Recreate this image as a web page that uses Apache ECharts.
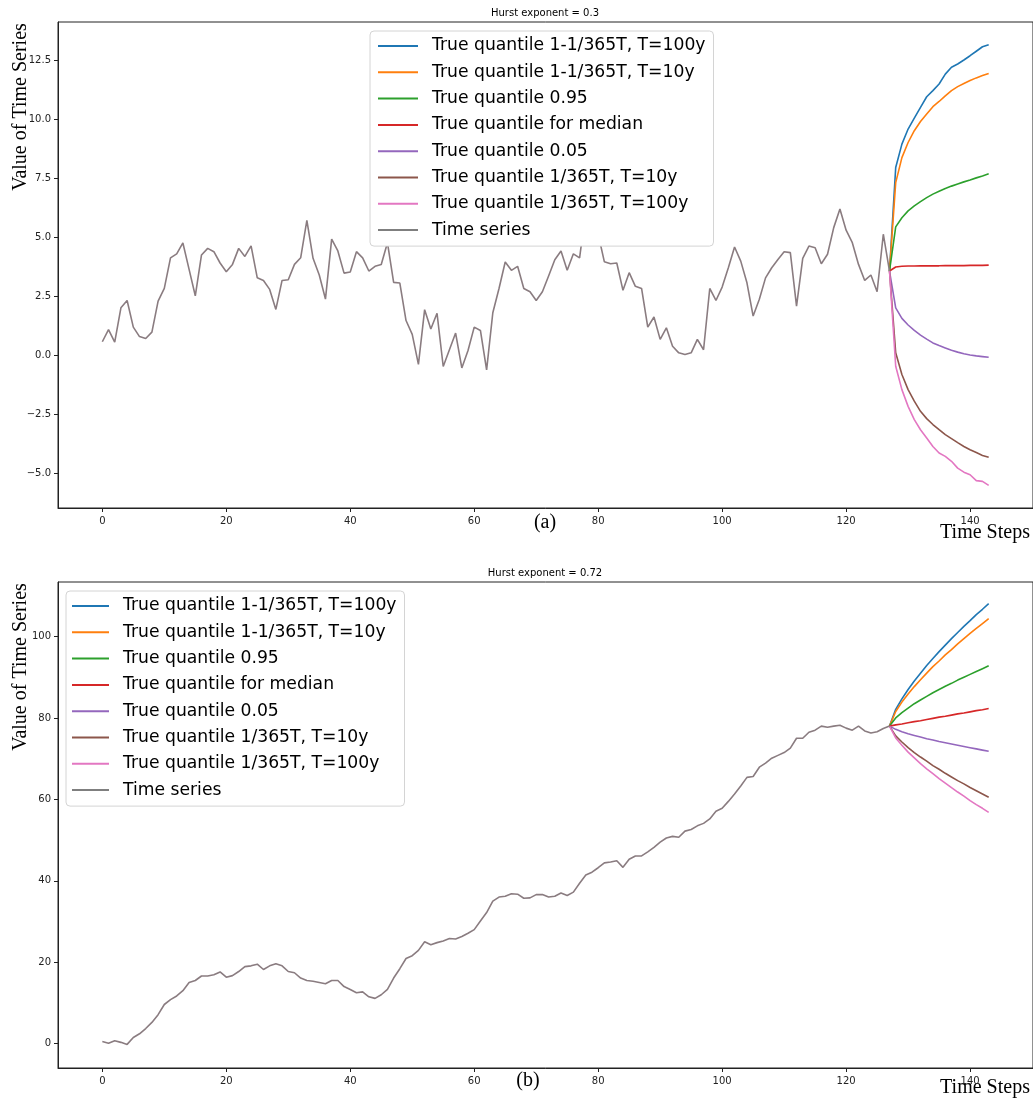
<!DOCTYPE html>
<html>
<head>
<meta charset="utf-8">
<script src="https://cdn.jsdelivr.net/npm/echarts@6/dist/echarts.min.js"></script>
<style>
	html, body {margin: 0; padding: 0; background: #fff;}
	#chart {width: 1033px; height: 1099px;}
</style>
</head>
<body>
<div id="chart"></div>
<script>
const seriesNames = [
	'True quantile 1-1/365T, T=100y',
	'True quantile 1-1/365T, T=10y',
	'True quantile 0.95',
	'True quantile for median',
	'True quantile 0.05',
	'True quantile 1/365T, T=10y',
	'True quantile 1/365T, T=100y',
	'Time series'
];
const colors = ['#1f77b4', '#ff7f0e', '#2ca02c', '#d62728', '#9467bd', '#8c564b', '#e377c2', '#7f7f7f'];
const xTicks = [0, 20, 40, 60, 80, 100, 120, 140];
const forecastStart = 127;

// (a) Hurst exponent = 0.3
const historyA = [
	0.58, 1.09, 0.56, 2.02, 2.33, 1.2, 0.8, 0.72, 0.99, 2.3, 2.84, 4.14, 4.31, 4.77, 3.65, 2.53,
	4.26, 4.54, 4.4, 3.92, 3.55, 3.86, 4.54, 4.2, 4.65, 3.29, 3.18, 2.8, 1.95, 3.18, 3.21, 3.86,
	4.14, 5.73, 4.12, 3.41, 2.39, 4.93, 4.43, 3.49, 3.54, 4.4, 4.14, 3.58, 3.78, 3.86, 4.78, 3.1,
	3.07, 1.48, 0.89, -0.38, 1.94, 1.12, 1.79, -0.47, 0.24, 0.95, -0.53, 0.21, 1.2, 1.06, -0.61,
	1.81, 2.84, 3.96, 3.61, 3.78, 2.84, 2.7, 2.33, 2.7, 3.37, 4.06, 4.43, 3.61, 4.31, 4.14, 6.13,
	5.59, 5.14, 3.97, 3.89, 3.92, 2.76, 3.51, 2.93, 2.84, 1.2, 1.63, 0.68, 1.17, 0.39, 0.11,
	0.04, 0.11, 0.68, 0.24, 2.84, 2.33, 2.9, 3.72, 4.6, 4.0, 3.08, 1.67, 2.38, 3.29, 3.72, 4.07,
	4.4, 4.36, 2.09, 4.12, 4.64, 4.57, 3.89, 4.29, 5.42, 6.21, 5.31, 4.78, 3.86, 3.18, 3.41, 2.7,
	5.14, 3.58
];
const upper100A = [3.58, 7.97, 8.96, 9.6, 10.06, 10.52, 10.97, 11.23, 11.51, 11.93, 12.22, 12.36, 12.53, 12.71, 12.9, 13.09, 13.18];
const upper10A = [3.58, 7.33, 8.39, 9.03, 9.53, 9.92, 10.24, 10.55, 10.77, 11.01, 11.23, 11.4, 11.53, 11.66, 11.77, 11.87, 11.96];
const q95A = [3.58, 5.45, 5.84, 6.13, 6.34, 6.52, 6.69, 6.84, 6.96, 7.08, 7.18, 7.27, 7.36, 7.44, 7.53, 7.61, 7.7];
const medianA = [3.58, 3.75, 3.78, 3.79, 3.79, 3.8, 3.8, 3.8, 3.8, 3.81, 3.81, 3.81, 3.81, 3.82, 3.82, 3.82, 3.83];
const q05A = [3.58, 2.02, 1.57, 1.29, 1.06, 0.86, 0.69, 0.53, 0.42, 0.32, 0.22, 0.14, 0.07, 0.02, -0.02, -0.05, -0.08];
const lower10A = [3.58, 0.11, -0.81, -1.45, -1.94, -2.37, -2.68, -2.93, -3.15, -3.36, -3.53, -3.7, -3.86, -4.0, -4.12, -4.24, -4.32];
const lower100A = [3.58, -0.46, -1.45, -2.16, -2.72, -3.15, -3.5, -3.86, -4.14, -4.28, -4.49, -4.78, -4.95, -5.06, -5.31, -5.34, -5.51];
const yTicksA = [-5, -2.5, 0, 2.5, 5, 7.5, 10, 12.5];

// (b) Hurst exponent = 0.72
const historyB = [
	0.5, 0.1, 0.7, 0.3, -0.2, 1.5, 2.4, 3.7, 5.2, 7.1, 9.6, 10.8, 11.7, 13.0, 15.0, 15.5,
	16.6, 16.6, 16.9, 17.6, 16.3, 16.7, 17.7, 18.9, 19.1, 19.5, 18.2, 19.1, 19.6, 19.1, 17.7, 17.4,
	16.1, 15.5, 15.3, 15.0, 14.7, 15.5, 15.5, 14.0, 13.3, 12.5, 12.7, 11.5, 11.1, 12.0, 13.3, 16.1,
	18.4, 20.9, 21.6, 22.9, 25.0, 24.3, 24.8, 25.2, 25.8, 25.7, 26.3, 27.1, 28.0, 30.1, 32.2, 35.0,
	36.0, 36.2, 36.8, 36.7, 35.7, 35.8, 36.6, 36.6, 36.0, 36.2, 37.0, 36.4, 37.2, 39.4, 41.4, 42.1,
	43.2, 44.4, 44.6, 44.9, 43.3, 45.3, 46.1, 46.1, 47.1, 48.2, 49.5, 50.5, 50.9, 50.7, 52.2, 52.6,
	53.5, 54.1, 55.2, 57.1, 57.8, 59.5, 61.3, 63.3, 65.4, 65.6, 67.9, 68.9, 70.1, 70.8, 71.5, 72.6,
	75.0, 75.0, 76.5, 77.0, 78.0, 77.7, 78.0, 78.2, 77.5, 77.0, 78.0, 76.8, 76.3, 76.6, 77.4, 78.0
];
const upper100B = [78.0, 82.1, 84.7, 87.0, 89.1, 91.0, 92.9, 94.6, 96.3, 97.9, 99.5, 101.0, 102.5, 103.9, 105.4, 106.7, 108.1];
const upper10B = [78.0, 81.6, 83.9, 85.9, 87.7, 89.4, 91.0, 92.6, 94.0, 95.5, 96.8, 98.2, 99.5, 100.8, 102.0, 103.2, 104.4];
const q95B = [78.0, 80.0, 81.3, 82.4, 83.5, 84.4, 85.3, 86.2, 87.0, 87.8, 88.5, 89.3, 90.0, 90.7, 91.4, 92.1, 92.8];
const medianB = [78.0, 78.3, 78.5, 78.8, 79.1, 79.3, 79.6, 79.9, 80.2, 80.4, 80.7, 81.0, 81.2, 81.5, 81.8, 82.0, 82.3];
const q05B = [78.0, 77.2, 76.6, 76.1, 75.7, 75.3, 74.9, 74.6, 74.2, 73.9, 73.6, 73.3, 73.0, 72.7, 72.4, 72.1, 71.8];
const lower10B = [78.0, 75.6, 74.1, 72.7, 71.5, 70.4, 69.4, 68.3, 67.4, 66.4, 65.5, 64.6, 63.8, 62.9, 62.1, 61.3, 60.5];
const lower100B = [78.0, 75.1, 73.3, 71.6, 70.2, 68.8, 67.5, 66.3, 65.1, 64.0, 62.9, 61.8, 60.8, 59.7, 58.7, 57.8, 56.8];
const yTicksB = [0, 20, 40, 60, 80, 100];

const panels = [
	{
		title: 'Hurst exponent = 0.3', tag: '(a)',
		history: historyA,
		forecasts: [upper100A, upper10A, q95A, medianA, q05A, lower10A, lower100A],
		yTicks: yTicksA, yMin: -6.47, yMax: 14.14, decimals: 1,
		top: 22, legend: {left: 370, top: 31, itemWidth: 40, padLeft: 8},
		tagPos: [545, 523], stepsY: 533, yNameY: 107
	},
	{
		title: 'Hurst exponent = 0.72', tag: '(b)',
		history: historyB,
		forecasts: [upper100B, upper10B, q95B, medianB, q05B, lower10B, lower100B],
		yTicks: yTicksB, yMin: -6, yMax: 113.4, decimals: 0,
		top: 582, legend: {left: 66, top: 591, itemWidth: 37, padLeft: 6},
		tagPos: [528, 1081], stepsY: 1088, yNameY: 667
	}
];

const plot = {left: 58, width: 978, height: 486};
const sansFont = 'DejaVu Sans';
const serifFont = '"Liberation Serif", "Times New Roman", serif';
const historyColor = '#8a7c80';

function minusSign(text){
	return text.replace('-', '\u2212');
}

function buildSeries(index, panel){
	let list = panel.forecasts.map((values, i) => ({
		name: seriesNames[i],
		type: 'line',
		xAxisIndex: index,
		yAxisIndex: index,
		symbol: 'none',
		silent: true,
		lineStyle: {width: 1.6, color: colors[i]},
		itemStyle: {color: colors[i]},
		data: values.map((v, k) => [forecastStart + k, v])
	}));
	list.push({
		name: seriesNames[7],
		type: 'line',
		xAxisIndex: index,
		yAxisIndex: index,
		symbol: 'none',
		silent: true,
		z: 3,
		lineStyle: {width: 1.6, color: historyColor},
		itemStyle: {color: historyColor},
		data: panel.history.map((v, t) => [t, v])
	});
	return list;
}

function textEl(text, x, y, font, rotation){
	return {
		type: 'text', x: x, y: y, rotation: rotation || 0, silent: true,
		style: {
			text: text, font: font, fill: '#000',
			textAlign: 'center', align: 'center',
			textVerticalAlign: 'middle', verticalAlign: 'middle'
		}
	};
}

const option = {
	animation: false,
	backgroundColor: '#fff',
	grid: panels.map(p => ({
		left: plot.left, top: p.top, width: plot.width, height: plot.height,
		show: true, borderColor: '#222', borderWidth: 1, backgroundColor: 'transparent'
	})),
	xAxis: panels.map((p, i) => ({
		type: 'value', gridIndex: i, min: -7.15, max: 150.15,
		axisLine: {show: true, onZero: false, lineStyle: {color: '#222', width: 1}},
		axisTick: {show: true, inside: false, length: 4, customValues: xTicks, lineStyle: {color: '#222'}},
		axisLabel: {
			show: true, customValues: xTicks, margin: 8,
			fontFamily: sansFont, fontSize: 10, color: '#222',
			formatter: v => String(v)
		},
		splitLine: {show: false}
	})),
	yAxis: panels.map((p, i) => ({
		type: 'value', gridIndex: i, min: p.yMin, max: p.yMax,
		axisLine: {show: true, onZero: false, lineStyle: {color: '#222', width: 1}},
		axisTick: {show: true, inside: false, length: 4, customValues: p.yTicks, lineStyle: {color: '#222'}},
		axisLabel: {
			show: true, customValues: p.yTicks, margin: 7,
			fontFamily: sansFont, fontSize: 10, color: '#222',
			formatter: v => minusSign(v.toFixed(p.decimals))
		},
		splitLine: {show: false}
	})),
	legend: panels.map(p => ({
		orient: 'vertical',
		left: p.legend.left, top: p.legend.top,
		icon: 'rect',
		itemWidth: p.legend.itemWidth, itemHeight: 2, itemGap: 6.3,
		padding: [5, 8, 6, p.legend.padLeft],
		backgroundColor: '#fff',
		borderColor: '#d4d4d4', borderWidth: 1, borderRadius: 4,
		selectedMode: false,
		textStyle: {
			fontFamily: sansFont, fontSize: 17.2, color: '#000',
			lineHeight: 20, padding: [0, 0, 0, 9]
		},
		data: seriesNames.map((name, i) => i === 7
			? {name: name, itemStyle: {color: colors[7]}}
			: name)
	})),
	graphic: panels.flatMap(p => [
		textEl(p.title, plot.left + plot.width / 2 - 2, p.top - 9, `10px ${sansFont}`),
		textEl('Value of Time Series', 21, p.yNameY, `20px ${serifFont}`, Math.PI / 2),
		textEl(p.tag, p.tagPos[0], p.tagPos[1], `20px ${serifFont}`),
		textEl('Time Steps', 985, p.stepsY, `20px ${serifFont}`)
	]),
	series: panels.flatMap((p, i) => buildSeries(i, p))
};

const chart = echarts.init(document.getElementById('chart'), null, {renderer: 'canvas'});
chart.setOption(option);
</script>
</body>
</html>
